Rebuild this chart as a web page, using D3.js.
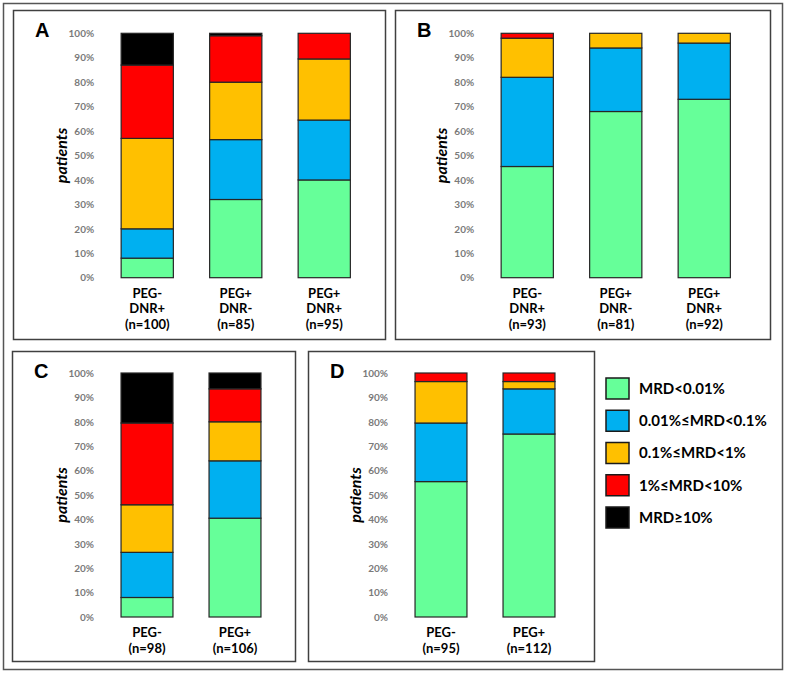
<!DOCTYPE html>
<html>
<head>
<meta charset="utf-8">
<script src="https://cdn.jsdelivr.net/npm/d3@7"></script>
<style>
  body { margin: 0; background: #fff; }
  svg { display: block; font-family: Lato, "Open Sans", sans-serif; }
</style>
</head>
<body>
<script>
// MRD levels, bottom to top of each stack
const levels = ["MRD<0.01%", "0.01%≤MRD<0.1%", "0.1%≤MRD<1%", "1%≤MRD<10%", "MRD≥10%"];
const levelColors = ["#66ff99", "#00b0f0", "#ffc000", "#ff0000", "#000000"];
const yTicks = [0, 10, 20, 30, 40, 50, 60, 70, 80, 90, 100];

// panel A
const catsA = [["PEG-", "DNR+", "(n=100)"], ["PEG+", "DNR-", "(n=85)"], ["PEG+", "DNR+", "(n=95)"]];
const valsA = [[8, 12, 37, 30, 13], [32, 24.5, 23.5, 19, 1], [40, 24.5, 25, 10.5, 0]];
// panel B
const catsB = [["PEG-", "DNR+", "(n=93)"], ["PEG+", "DNR-", "(n=81)"], ["PEG+", "DNR+", "(n=92)"]];
const valsB = [[45.5, 36.5, 16, 2, 0], [68, 26, 6, 0, 0], [73, 23, 4, 0, 0]];
// panel C
const catsC = [["PEG-", "(n=98)"], ["PEG+", "(n=106)"]];
const valsC = [[8, 18.5, 19.5, 33.5, 20.5], [40.5, 23.5, 16, 13.5, 6.5]];
// panel D
const catsD = [["PEG-", "(n=95)"], ["PEG+", "(n=112)"]];
const valsD = [[55.5, 24, 17, 3.5, 0], [75, 18.5, 3, 3.5, 0]];

const width = 787, height = 675;

const color = d3.scaleOrdinal().domain(d3.range(levels.length)).range(levelColors);

const svg = d3.select("body").append("svg")
  .attr("width", width)
  .attr("height", height);

svg.append("rect")
  .attr("x", 3.5).attr("y", 3.5)
  .attr("width", 779).attr("height", 666)
  .attr("fill", "#fff")
  .attr("stroke", "#555").attr("stroke-width", 1.5);

const panels = [
  { id: "A", cats: catsA, vals: valsA, box: [13, 10, 372, 329], xr: [103, 368.5], yr: [277.7, 33.3] },
  { id: "B", cats: catsB, vals: valsB, box: [395, 10, 375, 329], xr: [483, 748.5], yr: [277.7, 33.3] },
  { id: "C", cats: catsC, vals: valsC, box: [12, 351, 283, 310], xr: [103, 279], yr: [617, 373] },
  { id: "D", cats: catsD, vals: valsD, box: [308, 351, 286, 310], xr: [397, 573], yr: [617, 373] }
];

panels.forEach(p => {
  const g = svg.append("g").attr("class", "panel-" + p.id);

  g.append("rect")
    .attr("x", p.box[0] + 0.5).attr("y", p.box[1] + 0.5)
    .attr("width", p.box[2]).attr("height", p.box[3])
    .attr("fill", "none")
    .attr("stroke", "#404040").attr("stroke-width", 1.5);

  g.append("text")
    .attr("x", p.box[0] + 22).attr("y", p.box[1] + 27)
    .attr("font-family", "'Liberation Sans', Arial, sans-serif")
    .attr("font-weight", "bold")
    .attr("font-size", 20)
    .text(p.id);

  const x = d3.scaleBand()
    .domain(d3.range(p.cats.length))
    .range(p.xr)
    .paddingInner(0.41)
    .paddingOuter(0.205);

  const y = d3.scaleLinear().domain([0, 100]).range(p.yr);

  const series = d3.stack().keys(d3.range(levels.length))(p.vals);

  g.append("g")
    .selectAll("g")
    .data(series)
    .join("g")
    .attr("fill", s => color(s.key))
    .selectAll("rect")
    .data(s => s.map((d, j) => ({ d, j })).filter(e => e.d[1] - e.d[0] > 0))
    .join("rect")
    .attr("x", e => x(e.j))
    .attr("width", x.bandwidth())
    .attr("y", e => y(e.d[1]))
    .attr("height", e => y(e.d[0]) - y(e.d[1]))
    .attr("stroke", "#262626")
    .attr("stroke-width", 1.2);

  const axisX = x(0) - 27;
  const axis = g.append("g")
    .attr("transform", `translate(${axisX},0)`)
    .call(d3.axisLeft(y).tickValues(yTicks).tickFormat(d => d + "%").tickSize(0).tickPadding(0));
  axis.select(".domain").remove();
  axis.selectAll("text")
    .attr("fill", "#7a7a7a")
    .attr("font-family", "Lato, 'Open Sans', sans-serif")
    .attr("font-weight", "bold")
    .attr("font-size", 10);

  g.append("text")
    .attr("transform", `translate(${x(0) - 59},${(p.yr[0] + p.yr[1]) / 2}) rotate(-90)`)
    .attr("text-anchor", "middle")
    .attr("dy", "0.3em")
    .attr("font-weight", "bold")
    .attr("font-style", "italic")
    .attr("font-size", 16)
    .text("patients");

  g.append("g")
    .selectAll("text")
    .data(p.cats)
    .join("text")
    .attr("text-anchor", "middle")
    .attr("font-weight", "bold")
    .attr("font-size", 13)
    .attr("transform", (d, j) => `translate(${x(j) + x.bandwidth() / 2},${p.yr[0] + 20})`)
    .selectAll("tspan")
    .data(d => d)
    .join("tspan")
    .attr("x", 0)
    .attr("y", (d, k) => k * 15.8)
    .text(d => d);
});

// legend
const ly = d3.scaleLinear().domain([0, levels.length - 1]).range([378, 507]);
const legend = svg.append("g").attr("class", "legend");
const item = legend.selectAll("g")
  .data(levels)
  .join("g")
  .attr("transform", (d, i) => `translate(606,${ly(i)})`);

item.append("rect")
  .attr("width", 23).attr("height", 21)
  .attr("fill", (d, i) => color(i))
  .attr("stroke", "#1a1a1a").attr("stroke-width", 1.5);

item.append("text")
  .attr("x", 33).attr("y", 10.5).attr("dy", "0.36em")
  .attr("font-weight", "bold")
  .attr("font-size", 15)
  .text(d => d);
</script>
</body>
</html>
